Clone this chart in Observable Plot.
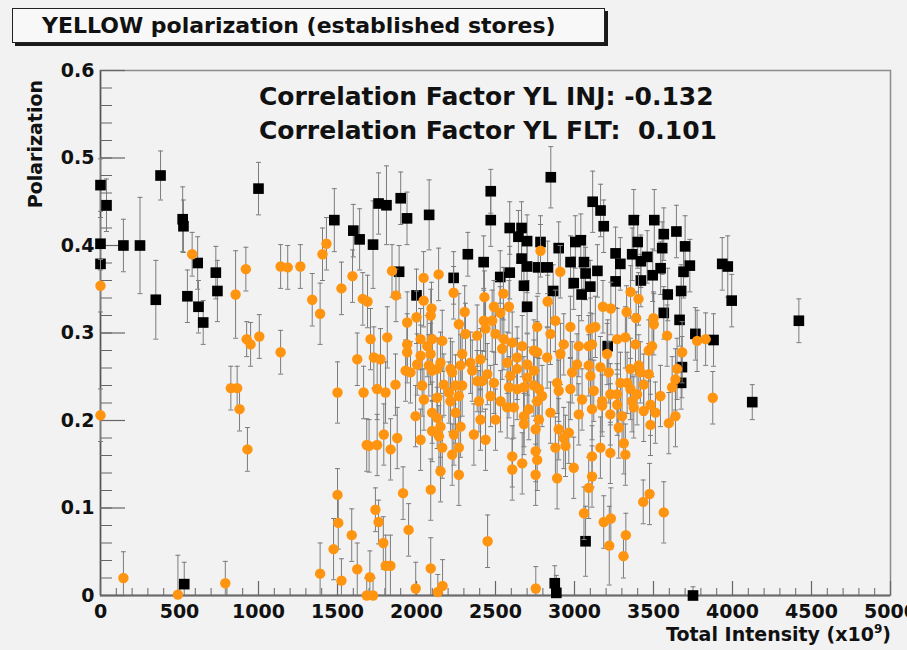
<!DOCTYPE html>
<html><head><meta charset="utf-8">
<script src="https://cdn.jsdelivr.net/npm/d3@7"></script>
<script src="https://cdn.jsdelivr.net/npm/@observablehq/plot@0.6"></script>
<style>
html,body{margin:0;padding:0;background:#f2f2f2;}
#wrap{position:relative;width:907px;height:650px;overflow:hidden;background:#f2f2f2;font-family:"DejaVu Sans",sans-serif;font-weight:bold;color:#111;}
#chart{position:absolute;left:0;top:0;}
.title{position:absolute;left:12px;top:8px;width:593px;height:35px;background:#f8f8f8;border:1px solid #222;box-shadow:3px 3px 0 #1a1a1a;box-sizing:border-box;font-size:22px;line-height:33px;padding-left:29px;white-space:nowrap;}
.corr{position:absolute;left:259px;font-size:25px;line-height:30px;white-space:pre;}
.ylab{position:absolute;left:0;top:0;width:200px;text-align:right;font-size:19px;line-height:20px;transform-origin:0 0;transform:translate(25px,280px) rotate(-90deg);white-space:nowrap;}
.xlab{position:absolute;right:16px;top:624px;font-size:19px;line-height:20px;white-space:nowrap;}
.xlab sup{font-size:12px;line-height:0;position:relative;top:-1px;vertical-align:super;}
</style>
</head><body>
<div id="wrap">
  <div id="chart"></div>
  <div class="title">YELLOW polarization (established stores)</div>
  <div class="corr" style="top:82px">Correlation Factor YL INJ: -0.132</div>
  <div class="corr" style="top:116px">Correlation Factor YL FLT:  0.101</div>
  <div class="ylab">Polarization</div>
  <div class="xlab">Total Intensity (x10<sup>9</sup>)</div>
</div>
<script>
// ---- data: [total intensity (x10^9), polarization, error] ----
const injPoints = [
[0,0.469,0.03],[38,0.446,0.03],[0,0.402,0.03],[0,0.379,0.025],[145,0.400,0.03],[250,0.400,0.055],
[350,0.338,0.045],[380,0.480,0.028],[520,0.430,0.037],[525,0.422,0.03],[550,0.342,0.03],[615,0.380,0.03],
[620,0.330,0.03],[650,0.312,0.025],[730,0.369,0.03],[740,0.348,0.035],[1000,0.465,0.03],[530,0.013,0.025],
[1480,0.429,0.036],[1600,0.417,0.03],[1640,0.407,0.035],[1725,0.401,0.05],[1760,0.448,0.035],[1810,0.446,0.045],
[1900,0.454,0.03],[1940,0.431,0.03],[2080,0.435,0.04],[1890,0.370,0.03],[2000,0.343,0.03],[2235,0.363,0.03],
[2325,0.390,0.025],[2425,0.381,0.03],[2470,0.462,0.025],[2470,0.429,0.03],[2530,0.364,0.03],[2590,0.420,0.03],
[2590,0.369,0.03],[2645,0.410,0.03],[2665,0.420,0.03],[2700,0.405,0.03],[2665,0.385,0.03],[2700,0.376,0.03],
[2680,0.354,0.03],[2700,0.330,0.03],[2850,0.478,0.035],[2770,0.375,0.03],[2830,0.375,0.03],[2865,0.348,0.03],
[2900,0.397,0.03],[2975,0.381,0.03],[2995,0.357,0.03],[3005,0.404,0.03],[3115,0.450,0.035],[3165,0.440,0.03],
[3185,0.422,0.03],[3040,0.406,0.03],[2785,0.404,0.03],[3060,0.381,0.03],[3070,0.368,0.03],[3145,0.371,0.03],
[3100,0.353,0.03],[3045,0.344,0.03],[3260,0.391,0.03],[3260,0.359,0.03],[3290,0.379,0.03],[3375,0.429,0.035],
[3400,0.404,0.03],[3365,0.390,0.03],[3420,0.382,0.03],[3460,0.387,0.03],[3505,0.429,0.035],[3565,0.413,0.03],
[3555,0.397,0.03],[3545,0.374,0.03],[3495,0.366,0.03],[3590,0.344,0.03],[3565,0.323,0.03],[3645,0.416,0.03],
[3700,0.399,0.035],[3730,0.377,0.03],[3690,0.370,0.03],[3675,0.348,0.03],[3665,0.315,0.03],[3935,0.379,0.03],
[3970,0.376,0.035],[3995,0.337,0.03],[4420,0.314,0.025],[4125,0.221,0.02],[3880,0.292,0.03],[3765,0.299,0.03],
[3680,0.261,0.035],[3675,0.243,0.03],[3210,0.285,0.03],[3420,0.360,0.03],[3070,0.062,0.04],[3750,0.000,0.01],
[2875,0.014,0.02],[2885,0.003,0.02]
];
const fltPointsEdge = [
[0,0.354,0.03],[0,0.206,0.03],[145,0.020,0.03],[490,0.001,0.045],[790,0.014,0.025],[580,0.390,0.025],
[920,0.373,0.025],[855,0.344,0.05],[925,0.293,0.02],[950,0.287,0.025],[1005,0.296,0.025],[1140,0.376,0.025],
[1185,0.375,0.025],[1265,0.376,0.025],[1140,0.278,0.025],[825,0.237,0.025],[865,0.237,0.025],[880,0.213,0.025],
[930,0.167,0.025],
[1430,0.402,0.03],[1405,0.390,0.03],[1595,0.365,0.03],[1525,0.351,0.03],[1340,0.338,0.03],[1390,0.322,0.035],
[1660,0.339,0.03],[1690,0.336,0.03],[1625,0.270,0.03],[1500,0.232,0.035],[1665,0.232,0.03],[1685,0.172,0.03],[1700,0.171,0.03],
[1500,0.115,0.03],[1505,0.083,0.03],[1475,0.053,0.035],[1390,0.025,0.035],[1525,0.017,0.025],[1590,0.069,0.03],
[1625,0.030,0.03],[1685,0.000,0.02],[1725,0.000,0.02],[1705,0.021,0.03],[1740,0.098,0.025],[1760,0.084,0.025],
[1790,0.060,0.03],[1805,0.034,0.035],[1835,0.034,0.035],[1915,0.117,0.03],[1950,0.075,0.03],[1995,0.008,0.03],
[2090,0.121,0.035],[2090,0.031,0.035],[2135,0.004,0.02],[2165,0.011,0.03],[2450,0.062,0.03],[2755,0.008,0.025],
[3060,0.094,0.03],[3185,0.084,0.03],[3230,0.088,0.035],[3220,0.057,0.045],[3325,0.069,0.025],[3310,0.045,0.025],
[3435,0.107,0.025],[3475,0.116,0.035],[3565,0.095,0.035],[3875,0.226,0.03],
[1845,0.371,0.03],[1870,0.343,0.03],[2000,0.318,0.03],[2045,0.363,0.03],[2045,0.337,0.03],[2095,0.328,0.03],
[2090,0.320,0.03],[2140,0.367,0.03],[2235,0.346,0.03],[2305,0.324,0.03],[2430,0.341,0.03],[2490,0.330,0.03],
[2530,0.323,0.03],[2550,0.345,0.03],[2585,0.330,0.03],[2785,0.394,0.03],[2830,0.336,0.03],[2910,0.370,0.03],
[3355,0.347,0.03],[3405,0.339,0.03],[3180,0.330,0.03],[3230,0.328,0.03],[3330,0.324,0.03],[3390,0.317,0.03],
[3500,0.317,0.03],[3830,0.293,0.03]
];
// dense core of the FLT cloud; error read as ~0.035 for these
const fltCoreErr = 0.035;
const fltPointsCore = [
[1941,0.312],[2268,0.310],[2426,0.314],[2479,0.314],[1709,0.293],[1815,0.295],[1941,0.287],[2026,0.293],[2099,0.293],[2163,0.291],[2310,0.299],[2384,0.297],[2437,0.305],[2500,0.299],[2553,0.293],[2606,0.289],[2669,0.285],[2743,0.280],[2764,0.307],
[1730,0.272],[1772,0.270],[1941,0.278],[2026,0.274],[2068,0.285],[2089,0.276],[2152,0.266],[2215,0.259],[2289,0.276],[2342,0.266],[2405,0.270],[2448,0.253],[2384,0.245],[2542,0.282],[2574,0.266],[2637,0.272],[2701,0.264],[2764,0.278],
[1931,0.257],[1962,0.255],[2004,0.264],[2078,0.263],[2099,0.257],[2131,0.259],[2226,0.255],[2279,0.263],[2353,0.257],[2416,0.245],[2490,0.243],[2595,0.251],[2637,0.259],[2701,0.249],[2743,0.257],
[1751,0.236],[1804,0.232],[1867,0.241],[2036,0.240],[2047,0.224],[2131,0.226],[2173,0.241],[2205,0.232],[2247,0.240],[2268,0.228],[2215,0.222],[2289,0.240],[2395,0.222],[2469,0.228],[2532,0.222],[2585,0.238],[2637,0.236],[2680,0.238],[2743,0.240],[2775,0.236],
[2247,0.209],[1994,0.205],[2099,0.209],[2131,0.203],[2152,0.193],[2279,0.193],[2405,0.201],[2500,0.201],[2574,0.215],[2616,0.215],[2680,0.205],[2711,0.213],[2764,0.222],[2775,0.201],
[1793,0.184],[1878,0.180],[1751,0.172],[1836,0.167],[2026,0.178],[2099,0.188],[2142,0.182],[2237,0.184],[2363,0.184],[2437,0.178],[2680,0.196],[2754,0.190],
[2163,0.169],[2226,0.161],[2268,0.169],[2606,0.159],[2669,0.151],[2754,0.165],[2764,0.155],
[2152,0.142],[2268,0.138],[2606,0.144],[2754,0.138],
[2879,0.314],[2974,0.307],[3101,0.305],[3132,0.307],[2848,0.299],[2932,0.287],[3027,0.285],[3090,0.285],[3111,0.287],[3206,0.276],[3270,0.293],[3322,0.295],[3386,0.287],[3470,0.280],[3491,0.285],[3502,0.310],[3586,0.297],[3681,0.278],[3776,0.291],
[2827,0.272],[2911,0.276],[3016,0.264],[3090,0.263],[3164,0.261],[2985,0.255],[3101,0.251],[3217,0.255],[3354,0.259],[3407,0.263],[3417,0.255],[3470,0.253],[3649,0.259],[3639,0.247],
[2795,0.228],[2890,0.243],[2900,0.234],[2974,0.236],[3122,0.234],[3048,0.224],[3175,0.222],[3227,0.230],[3270,0.230],[3291,0.243],[3333,0.243],[3354,0.236],[3396,0.230],[3438,0.241],[3544,0.228],[3618,0.238],
[2848,0.209],[3027,0.207],[3111,0.213],[3175,0.217],[3227,0.207],[3270,0.218],[3301,0.205],[3364,0.222],[3375,0.215],[3438,0.211],[3481,0.218],[3512,0.209],[3639,0.205],[3597,0.197],[3481,0.195],[3280,0.192],
[2900,0.190],[2932,0.180],[2964,0.186],[2879,0.169],[2943,0.171],[3164,0.169],[3111,0.159],[3227,0.163],[3322,0.161],[3312,0.174],
[2995,0.146],[2890,0.134],[3111,0.136],[3090,0.123]
];
const xMajorTicks = [0,500,1000,1500,2000,2500,3000,3500,4000,4500,5000];
const xMinorTicks = d3.range(0,5001,100);
const yMajorTicks = [0,0.1,0.2,0.3,0.4,0.5,0.6];
const yMinorTicks = d3.range(0,61,2).map(v=>v/100);

const fltPoints = fltPointsEdge.concat(fltPointsCore.map(([x,y])=>[x,y,fltCoreErr]));

const W=907,H=650,mL=100,mR=17,mT=70,mB=55;
const plotW=W-mL-mR, plotH=H-mT-mB;
const xPerPx=5000/plotW, yPerPx=0.6/plotH;
const capSym={draw(ctx){ctx.moveTo(-2.5,0);ctx.lineTo(2.5,0);}};
const barColor="#7c7c7c";

function errMarks(pts, fillColor, symbol, r){
  const lo = pts.filter(d=>d[1]-d[2]>0);
  return [
    Plot.ruleX(pts,{x:d=>d[0],y1:d=>Math.max(0,d[1]-d[2]),y2:d=>d[1]+d[2],stroke:barColor,strokeWidth:1}),
    Plot.dot(pts,{x:d=>d[0],y:d=>d[1]+d[2],symbol:capSym,r:2,stroke:barColor,fill:"none",strokeWidth:1}),
    Plot.dot(lo,{x:d=>d[0],y:d=>d[1]-d[2],symbol:capSym,r:2,stroke:barColor,fill:"none",strokeWidth:1}),
    Plot.dot(pts,{x:d=>d[0],y:d=>d[1],symbol,r,fill:fillColor,stroke:"none"})
  ];
}

const chart = Plot.plot({
  width:W,height:H,marginLeft:mL,marginRight:mR,marginTop:mT,marginBottom:mB,
  x:{domain:[0,5000],label:null},
  y:{domain:[0,0.6],label:null},
  style:{background:"transparent",fontFamily:"DejaVu Sans, sans-serif",fontSize:"19px",fontWeight:"bold",color:"#111",overflow:"visible"},
  marks:[
    Plot.frame({stroke:"#8c8c8c",strokeWidth:1.5}),
    Plot.ruleX([0],{stroke:"#555",strokeWidth:1.5}),
    Plot.ruleY([0],{stroke:"#6a6a6a",strokeWidth:2}),
    Plot.ruleY(yMinorTicks,{y:d=>d,x1:0,x2:12*xPerPx,stroke:"#666",strokeWidth:1}),
    Plot.ruleY(yMajorTicks,{y:d=>d,x1:0,x2:25*xPerPx,stroke:"#666",strokeWidth:1.2}),
    Plot.ruleX(xMinorTicks,{x:d=>d,y1:0,y2:7*yPerPx,stroke:"#666",strokeWidth:1}),
    Plot.ruleX(xMajorTicks,{x:d=>d,y1:0,y2:14*yPerPx,stroke:"#666",strokeWidth:1.2}),
    Plot.axisY({ticks:yMajorTicks,tickSize:0,tickPadding:6,tickFormat:d=>d===0?"0":d3.format(".1f")(d),label:null}),
    Plot.axisX({ticks:xMajorTicks,tickSize:0,tickPadding:9,tickFormat:d=>String(d),label:null}),
    ...errMarks(injPoints,"#000","square",6),
    ...errMarks(fltPoints,"#ff9410","circle",5.2)
  ]
});
document.getElementById("chart").appendChild(chart);
</script>
</body></html>
